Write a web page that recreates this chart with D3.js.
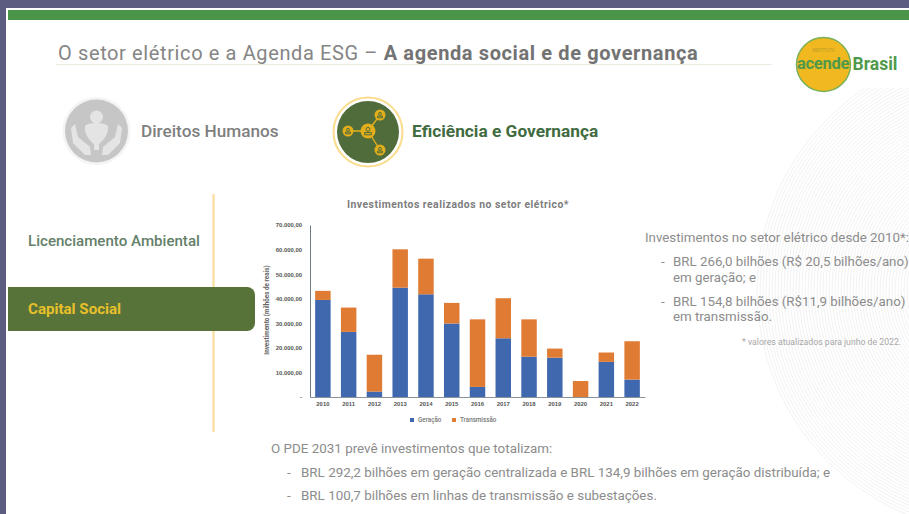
<!DOCTYPE html>
<html lang="pt">
<head>
<meta charset="utf-8">
<title>Investimentos realizados no setor elétrico</title>
<script src="https://cdn.jsdelivr.net/npm/d3@7"></script>
<style>
  html, body { margin: 0; padding: 0; background: #5c5c80; }
  svg { display: block; font-family: Roboto, "Noto Sans", sans-serif; }
</style>
</head>
<body>
<svg id="slide" width="909" height="514"></svg>
<script>
// Investment per year, in millions of reais
const years = ["2010","2011","2012","2013","2014","2015","2016","2017","2018","2019","2020","2021","2022"];
const geracao = [39500,26500,2200,44500,41800,29900,4100,23900,16400,16000,0,14300,7100];
const transmissao = [3700,9900,15000,15600,14500,8400,27500,16300,15200,3700,6500,3800,15600];
const seriesNames = ["Geração","Transmissão"];
const seriesColors = ["#3f68ae","#e07b33"];
const tickValues = [0,10000,20000,30000,40000,50000,60000,70000];
const tickLabels = ["-","10.000,00","20.000,00","30.000,00","40.000,00","50.000,00","60.000,00","70.000,00"];

const svg = d3.select("#slide");

// Slide sheet and top band
svg.append("rect").attr("x", 6).attr("y", 8).attr("width", 903).attr("height", 506).attr("fill", "#fff");
svg.append("rect").attr("x", 8).attr("y", 10).attr("width", 901).attr("height", 10).attr("fill", "#4a9547");

// Faint concentric rings behind the right-hand text
const rings = svg.append("g").attr("fill", "none").attr("stroke", "#ededed").attr("stroke-width", 0.7);
d3.range(90, 246, 3).forEach(r => {
  rings.append("circle").attr("cx", 1000).attr("cy", 290).attr("r", r);
});
svg.append("rect").attr("x", 780).attr("y", 20).attr("width", 129).attr("height", 68).attr("fill", "#fff");

// Title
const title = svg.append("text").attr("x", 58).attr("y", 60).attr("font-size", 20).attr("letter-spacing", 0.62).attr("fill", "#858585");
title.append("tspan").text("O setor elétrico e a Agenda ESG – ");
title.append("tspan").attr("font-weight", 700).attr("fill", "#737373").text("A agenda social e de governança");
svg.append("line").attr("x1", 56).attr("x2", 772).attr("y1", 64.5).attr("y2", 64.5).attr("stroke", "#e6eee2").attr("stroke-width", 1.2);

// Logo
svg.append("circle").attr("cx", 823.5).attr("cy", 64.5).attr("r", 27).attr("fill", "#f1b81f").attr("stroke", "#7bb05a").attr("stroke-width", 1.5);
svg.append("text").attr("x", 823.5).attr("y", 51.5).attr("text-anchor", "middle").attr("font-size", 4.5).attr("fill", "#b59a2c").text("INSTITUTO");
svg.append("text").attr("x", 823).attr("y", 69).attr("text-anchor", "middle").attr("font-size", 16.5).attr("font-weight", 700).attr("letter-spacing", -0.3).attr("fill", "#4f9a4a").attr("font-family", "'Liberation Sans Narrow', Roboto, sans-serif").text("acende");
svg.append("text").attr("x", 852.5).attr("y", 69.5).attr("font-size", 17.5).attr("font-weight", 700).attr("fill", "#4f9a4a").text("Brasil");

// Section icons
const personIcon = (g, x, y, r, fill, stroke) => {
  g.append("circle").attr("cx", x).attr("cy", y).attr("r", r).attr("fill", fill);
  g.append("circle").attr("cx", x).attr("cy", y - r * 0.22).attr("r", r * 0.26).attr("fill", "none").attr("stroke", stroke).attr("stroke-width", 1);
  g.append("path").attr("d", `M${x - r * 0.45},${y + r * 0.5}h${r * 0.9}v${-r * 0.3}h${-r * 0.9}z`).attr("fill", "none").attr("stroke", stroke).attr("stroke-width", 1);
};

const humanIcon = svg.append("g");
humanIcon.append("circle").attr("cx", 96.5).attr("cy", 131).attr("r", 34).attr("fill", "#f4f4f4");
humanIcon.append("circle").attr("cx", 96.5).attr("cy", 131).attr("r", 31.5).attr("fill", "#c6c6c6");
humanIcon.append("circle").attr("cx", 96.5).attr("cy", 117).attr("r", 6.5).attr("fill", "#e4e4e4");
humanIcon.append("path").attr("d", "M85,126c3,-4 20,-4 23,0c1,8 -5,15 -9,18v6h-5v-6c-4,-3 -10,-10 -9,-18z").attr("fill", "#e4e4e4");
humanIcon.append("path").attr("d", "M75,124l3,13l12,10l1,8h-6l-12,-12l-2,-15z").attr("fill", "#e4e4e4");
humanIcon.append("path").attr("d", "M118,124l-3,13l-12,10l-1,8h6l12,-12l2,-15z").attr("fill", "#e4e4e4");

const govIcon = svg.append("g");
govIcon.append("circle").attr("cx", 368).attr("cy", 132).attr("r", 34.5).attr("fill", "#fff").attr("stroke", "#fbdc8c").attr("stroke-width", 2);
govIcon.append("circle").attr("cx", 368).attr("cy", 132).attr("r", 31).attr("fill", "#4f6c3a");
govIcon.append("path").attr("d", "M348,131H368L380,115M368,131L380,150").attr("fill", "none").attr("stroke", "#e3ae1c").attr("stroke-width", 1.4);
personIcon(govIcon, 368, 131, 7.5, "#e3ae1c", "#4f6c3a");
personIcon(govIcon, 348, 131, 5.5, "#e3ae1c", "#4f6c3a");
personIcon(govIcon, 380, 115, 5.5, "#e3ae1c", "#4f6c3a");
personIcon(govIcon, 380, 150, 5.5, "#e3ae1c", "#4f6c3a");

svg.append("text").attr("x", 141).attr("y", 137).attr("font-size", 17.2).attr("font-weight", 500).attr("fill", "#7f7f7f").text("Direitos Humanos");
svg.append("text").attr("x", 412).attr("y", 137).attr("font-size", 17.3).attr("font-weight", 700).attr("fill", "#3f6b3f").text("Eficiência e Governança");

// Side menu
svg.append("line").attr("x1", 213.5).attr("x2", 213.5).attr("y1", 194).attr("y2", 432).attr("stroke", "#fbe0a4").attr("stroke-width", 2.4);
svg.append("text").attr("x", 28).attr("y", 246).attr("font-size", 15.1).attr("font-weight", 500).attr("fill", "#64806a").text("Licenciamento Ambiental");
svg.append("path").attr("d", "M8,287H247a8,8 0 0 1 8,8V323a8,8 0 0 1 -8,8H8z").attr("fill", "#58733a");
svg.append("text").attr("x", 28).attr("y", 314).attr("font-size", 15.1).attr("font-weight", 700).attr("fill", "#e8c02a").text("Capital Social");

// Stacked bar chart
const x = d3.scaleBand().domain(years).range([310, 645]).paddingInner(0.4).paddingOuter(0.2);
const y = d3.scaleLinear().domain([0, 70000]).range([397, 225]);

const rows = years.map((year, i) => ({ year, "Geração": geracao[i], "Transmissão": transmissao[i] }));
const stacked = d3.stack().keys(seriesNames)(rows);

svg.append("text").attr("x", 458).attr("y", 208).attr("text-anchor", "middle").attr("font-size", 10.4).attr("font-weight", 700).attr("letter-spacing", 0.5).attr("fill", "#7d7d7d").text("Investimentos realizados no setor elétrico*");

svg.append("g").selectAll("g").data(stacked).join("g")
  .attr("fill", (d, i) => seriesColors[i])
  .selectAll("rect").data(d => d).join("rect")
  .attr("x", d => x(d.data.year))
  .attr("width", x.bandwidth())
  .attr("y", d => y(d[1]))
  .attr("height", d => y(d[0]) - y(d[1]));

const yAxis = d3.axisLeft(y).tickValues(tickValues).tickSize(0).tickPadding(8)
  .tickFormat((d, i) => tickLabels[i]);
const yAxisG = svg.append("g").attr("transform", "translate(310,0)").call(yAxis);
yAxisG.select(".domain").attr("stroke", "#6e7a86").attr("stroke-width", 1);
yAxisG.selectAll("text").attr("font-size", 5.9).attr("font-weight", 700).attr("fill", "#555");

const xAxis = d3.axisBottom(x).tickSize(0).tickPadding(5);
const xAxisG = svg.append("g").attr("transform", "translate(0,397)").call(xAxis);
xAxisG.select(".domain").attr("stroke", "#8a929a").attr("stroke-width", 1);
xAxisG.selectAll("text").attr("font-size", 5.9).attr("font-weight", 700).attr("fill", "#555");

svg.append("text").attr("transform", "translate(269,310) rotate(-90)").attr("text-anchor", "middle")
  .attr("font-size", 6.3).attr("font-weight", 700).attr("fill", "#666").text("Investimento (milhões de reais)");

// Legend below the bars
const legendX = [412, 454];
const legend = svg.append("g").selectAll("g").data(seriesNames).join("g")
  .attr("transform", (d, i) => `translate(${legendX[i]},420)`);
legend.append("rect").attr("x", -2).attr("y", -2).attr("width", 4).attr("height", 4).attr("fill", (d, i) => seriesColors[i]);
legend.append("text").attr("x", 6).attr("y", 2).attr("font-size", 6.3).attr("font-weight", 500).attr("fill", "#777").text(d => d);

// Text blocks
const bodyText = (txt, tx, ty, size, fill) =>
  svg.append("text").attr("x", tx).attr("y", ty).attr("font-size", size).attr("fill", fill || "#8c8c8c").text(txt);

bodyText("Investimentos no setor elétrico desde 2010*:", 645, 241.5, 13.3);
bodyText("-", 661, 266, 13.3);
bodyText("BRL 266,0 bilhões (R$ 20,5 bilhões/ano)", 673, 266, 13.3);
bodyText("em geração; e", 673, 282, 13.3);
bodyText("-", 661, 306, 13.3);
bodyText("BRL 154,8 bilhões (R$11,9 bilhões/ano)", 673, 306, 13.3);
bodyText("em transmissão.", 673, 321, 13.3);
bodyText("* valores atualizados para junho de 2022.", 742, 345, 8.7, "#a8a8a8");

bodyText("O PDE 2031 prevê investimentos que totalizam:", 271, 453, 13.4);
bodyText("-", 287, 476.5, 13.4);
bodyText("BRL 292,2 bilhões em geração centralizada e BRL 134,9 bilhões em geração distribuída; e", 301, 476.5, 13.4);
bodyText("-", 287, 499.5, 13.4);
bodyText("BRL 100,7 bilhões em linhas de transmissão e subestações.", 301, 499.5, 13.4);
</script>
</body>
</html>
